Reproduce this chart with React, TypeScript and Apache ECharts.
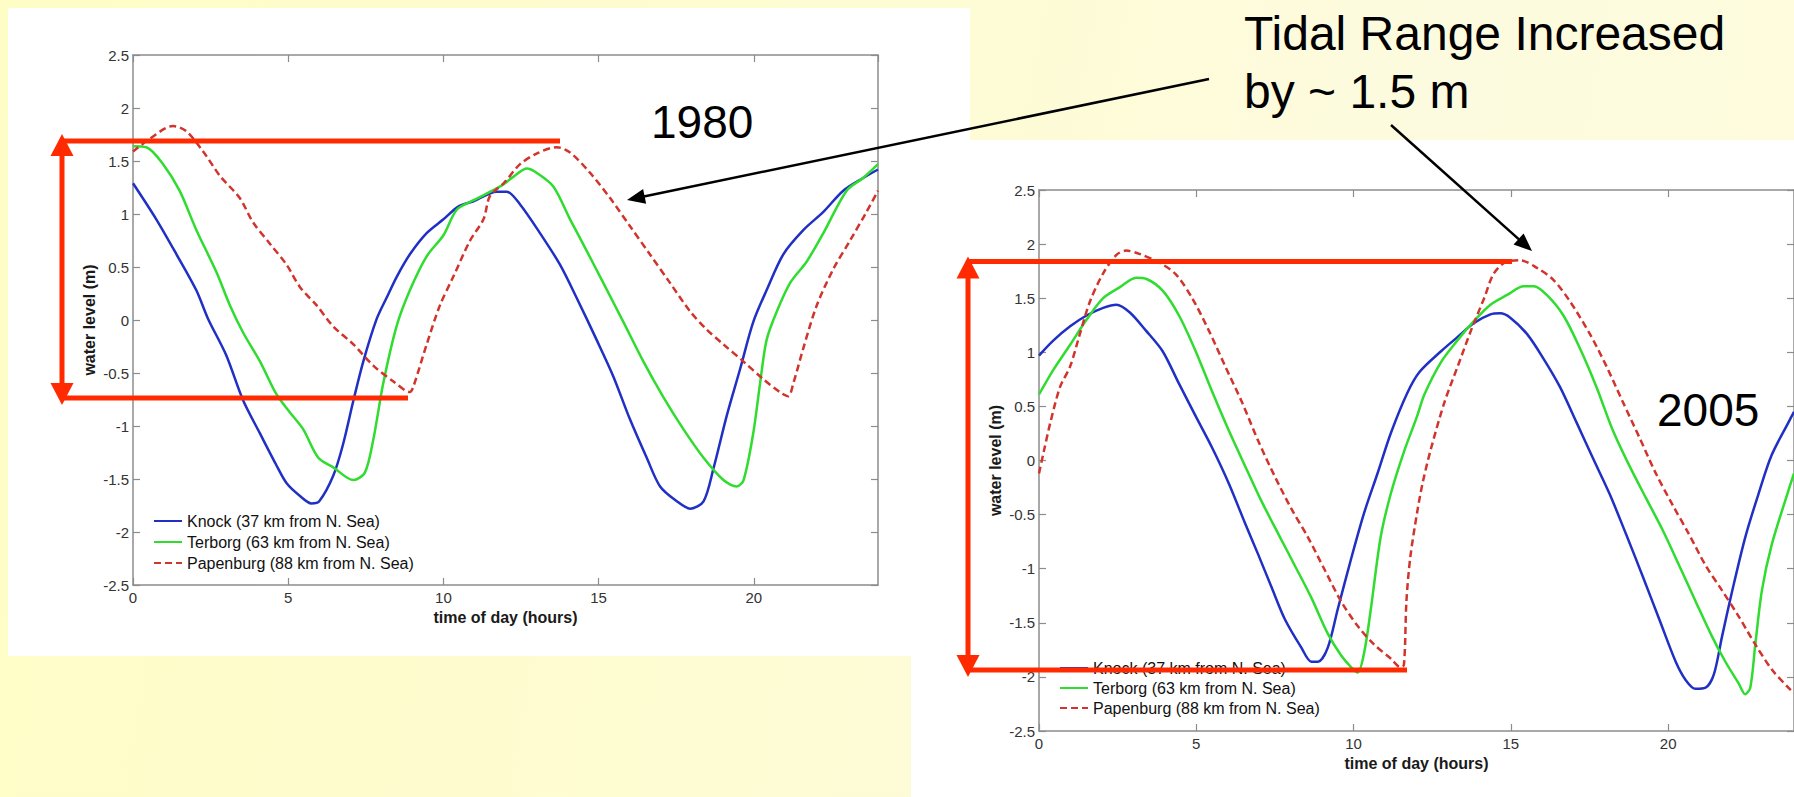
import React, { useEffect, useRef } from "react";
import * as echarts from "echarts";

// ---------- data: water level (m) against time of day (hours) ----------
const HOUR_MIN = 0;
const HOUR_MAX = 24;
const HOUR_STEP = 5;
const LEVEL_TICKS = [-2.5, -2, -1.5, -1, -0.5, 0, 0.5, 1, 1.5, 2, 2.5];

const SERIES_NAMES = [
  "Knock (37 km from N. Sea)",
  "Terborg (63 km from N. Sea)",
  "Papenburg (88 km from N. Sea)",
];

const knock1980: [number, number][] = [
  [0, 1.29], [0.75, 0.95], [1.4, 0.62], [2.04, 0.28], [2.42, 0.01], [3.0, -0.33],
  [3.55, -0.76], [4.09, -1.07], [4.62, -1.37], [4.95, -1.54], [5.38, -1.66],
  [5.75, -1.73], [6.0, -1.71], [6.45, -1.47], [6.77, -1.17], [7.1, -0.76],
  [7.42, -0.39], [7.85, 0.01], [8.17, 0.21], [8.5, 0.41], [8.92, 0.62], [9.46, 0.82],
  [10.0, 0.95], [10.48, 1.07], [10.97, 1.12], [11.72, 1.21], [12.04, 1.21],
  [12.47, 1.09], [13.11, 0.82], [13.76, 0.52], [14.29, 0.21], [14.94, -0.19],
  [15.47, -0.53], [16.0, -0.93], [16.55, -1.3], [16.98, -1.57], [17.52, -1.71],
  [17.95, -1.78], [18.38, -1.71], [18.7, -1.4], [19.13, -0.9], [19.56, -0.46],
  [19.98, -0.02], [20.41, 0.28], [20.95, 0.62], [21.6, 0.85], [22.24, 1.02],
  [22.88, 1.22], [23.52, 1.34], [24, 1.42],
];

const terborg1980: [number, number][] = [
  [0, 1.64], [0.43, 1.63], [0.97, 1.47], [1.5, 1.22], [2.04, 0.85], [2.69, 0.45],
  [3.12, 0.14], [3.55, -0.12], [4.09, -0.39], [4.62, -0.7], [5.05, -0.87],
  [5.48, -1.03], [5.97, -1.3], [6.45, -1.39], [7.1, -1.51], [7.47, -1.44],
  [7.74, -1.13], [8.06, -0.6], [8.49, -0.06], [8.92, 0.28], [9.46, 0.6], [10.0, 0.8],
  [10.43, 1.04], [10.97, 1.13], [11.83, 1.26], [12.25, 1.35], [12.69, 1.43],
  [13.0, 1.39], [13.54, 1.26], [14.08, 0.95], [14.62, 0.65], [15.15, 0.35],
  [15.8, -0.02], [16.44, -0.39], [17.09, -0.73], [17.73, -1.03], [18.38, -1.3],
  [19.02, -1.51], [19.45, -1.57], [19.67, -1.51], [19.98, -1.07], [20.2, -0.6],
  [20.41, -0.19], [20.74, 0.08], [21.17, 0.35], [21.7, 0.55], [22.24, 0.82],
  [22.99, 1.22], [23.52, 1.34], [24, 1.47],
];

const papenburg1980: [number, number][] = [
  [0, 1.59], [0.54, 1.71], [1.29, 1.83], [1.72, 1.78], [2.26, 1.59], [2.8, 1.36],
  [3.44, 1.15], [3.87, 0.92], [4.41, 0.72], [4.95, 0.52], [5.38, 0.31], [5.91, 0.14],
  [6.45, -0.06], [7.1, -0.23], [7.74, -0.43], [8.39, -0.58], [8.92, -0.68],
  [9.03, -0.63], [9.46, -0.23], [9.89, 0.14], [10.32, 0.41], [10.86, 0.75],
  [11.29, 0.95], [11.5, 1.17], [11.94, 1.29], [12.47, 1.47], [13.0, 1.57],
  [13.65, 1.63], [14.08, 1.58], [14.72, 1.39], [15.37, 1.15], [16.0, 0.89],
  [16.65, 0.62], [17.3, 0.35], [17.95, 0.08], [18.48, -0.09], [19.02, -0.23],
  [19.66, -0.39], [20.31, -0.56], [20.84, -0.68], [21.11, -0.72], [21.27, -0.6],
  [21.6, -0.26], [22.03, 0.14], [22.56, 0.48], [23.1, 0.75], [23.63, 1.02], [24, 1.22],
];

const knock2005: [number, number][] = [
  [0, 0.97], [0.46, 1.11], [0.99, 1.24], [1.51, 1.34], [2.04, 1.41], [2.46, 1.44],
  [2.88, 1.37], [3.4, 1.2], [3.93, 1.01], [4.45, 0.71], [4.98, 0.41], [5.5, 0.12],
  [6.03, -0.21], [6.55, -0.58], [6.97, -0.87], [7.39, -1.17], [7.82, -1.47],
  [8.34, -1.73], [8.66, -1.86], [8.87, -1.86], [9.18, -1.73], [9.5, -1.37],
  [9.92, -0.91], [10.34, -0.48], [10.76, -0.12], [11.18, 0.25], [11.7, 0.62],
  [12.1, 0.82], [12.78, 1.01], [13.3, 1.14], [13.83, 1.27], [14.35, 1.35],
  [14.66, 1.36], [14.98, 1.32], [15.51, 1.17], [16.04, 0.94], [16.56, 0.68],
  [17.09, 0.35], [17.61, 0.02], [18.14, -0.31], [18.66, -0.68], [19.19, -1.07],
  [19.72, -1.47], [20.24, -1.86], [20.56, -2.03], [20.87, -2.11], [21.19, -2.1],
  [21.45, -1.98], [21.71, -1.63], [22.04, -1.2], [22.45, -0.71], [22.87, -0.31],
  [23.29, 0.05], [23.82, 0.35], [24, 0.45],
];

const terborg2005: [number, number][] = [
  [0, 0.61], [0.46, 0.84], [0.99, 1.07], [1.51, 1.3], [2.04, 1.5], [2.56, 1.6],
  [3.09, 1.69], [3.4, 1.68], [3.93, 1.57], [4.45, 1.34], [4.98, 1.01], [5.5, 0.64],
  [6.03, 0.28], [6.55, -0.05], [7.08, -0.38], [7.61, -0.68], [8.13, -0.97],
  [8.66, -1.27], [9.18, -1.6], [9.6, -1.8], [9.92, -1.91], [10.13, -1.96],
  [10.34, -1.77], [10.55, -1.37], [10.86, -0.71], [11.18, -0.31], [11.6, 0.08],
  [12.02, 0.41], [12.25, 0.61], [12.78, 0.91], [13.3, 1.11], [13.83, 1.29],
  [14.35, 1.44], [14.88, 1.53], [15.41, 1.61], [15.73, 1.61], [16.14, 1.53],
  [16.67, 1.34], [17.19, 1.04], [17.72, 0.68], [18.24, 0.28], [18.77, -0.05],
  [19.3, -0.35], [19.82, -0.64], [20.35, -0.97], [20.87, -1.3], [21.4, -1.63],
  [21.82, -1.86], [22.24, -2.06], [22.45, -2.16], [22.61, -2.1], [22.77, -1.7],
  [22.98, -1.2], [23.29, -0.78], [23.82, -0.28], [24, -0.12],
];

const papenburg2005: [number, number][] = [
  [0, -0.12], [0.15, 0.08], [0.36, 0.35], [0.67, 0.68], [0.99, 0.87], [1.3, 1.17],
  [1.62, 1.47], [2.04, 1.73], [2.46, 1.9], [2.77, 1.94], [3.19, 1.91], [3.82, 1.83],
  [4.35, 1.72], [4.87, 1.5], [5.4, 1.2], [5.92, 0.87], [6.45, 0.54], [6.97, 0.18],
  [7.5, -0.15], [8.03, -0.45], [8.55, -0.71], [9.08, -1.01], [9.6, -1.3],
  [10.13, -1.53], [10.65, -1.7], [11.18, -1.83], [11.49, -1.91], [11.6, -1.89],
  [11.68, -1.3], [11.8, -0.9], [12.02, -0.48], [12.2, -0.2], [12.47, 0.12],
  [12.89, 0.54], [13.31, 0.87], [13.73, 1.2], [14.15, 1.5], [14.46, 1.73],
  [14.88, 1.84], [15.3, 1.85], [15.83, 1.78], [16.35, 1.67], [16.88, 1.47],
  [17.51, 1.17], [18.04, 0.87], [18.56, 0.54], [19.09, 0.21], [19.61, -0.12],
  [20.14, -0.41], [20.66, -0.68], [21.19, -0.97], [21.71, -1.2], [22.24, -1.44],
  [22.77, -1.7], [23.29, -1.93], [23.82, -2.1], [24, -2.15],
];

// ---------- styling ----------
const FONT = '"Liberation Sans", Arial, Helvetica, sans-serif';
const BLUE = "#2030c4";
const GREEN = "#2fdc2f";
const DASH_RED = "#d0342c";
const MARK_RED = "#ff2a00";
const FRAME = "#8c8c8c";

type Pt = [number, number];

function arrowHead(tip: Pt, from: Pt, len: number, half: number): Pt[] {
  const dx = tip[0] - from[0];
  const dy = tip[1] - from[1];
  const d = Math.hypot(dx, dy);
  const ux = dx / d;
  const uy = dy / d;
  const bx = tip[0] - ux * len;
  const by = tip[1] - uy * len;
  return [tip, [bx - uy * half, by + ux * half], [bx + uy * half, by - ux * half]];
}

function arrow(from: Pt, tip: Pt, color: string, width: number, len: number, half: number) {
  const dx = tip[0] - from[0];
  const dy = tip[1] - from[1];
  const d = Math.hypot(dx, dy);
  const end: Pt = [tip[0] - (dx / d) * (len - 2), tip[1] - (dy / d) * (len - 2)];
  return [
    {
      type: "line",
      z: 60,
      shape: { x1: from[0], y1: from[1], x2: end[0], y2: end[1] },
      style: { stroke: color, lineWidth: width },
    },
    {
      type: "polygon",
      z: 60,
      shape: { points: arrowHead(tip, from, len, half) },
      style: { fill: color },
    },
  ];
}

// red range bracket: double-headed vertical arrow plus two horizontal levels
function rangeBracket(x: number, yTop: number, yBot: number, topTip: number, botTip: number, xTopEnd: number, xBotEnd: number) {
  const w = 5;
  return [
    {
      type: "line",
      z: 55,
      shape: { x1: x, y1: topTip + 12, x2: x, y2: botTip - 12 },
      style: { stroke: MARK_RED, lineWidth: w },
    },
    { type: "polygon", z: 55, shape: { points: arrowHead([x, topTip], [x, topTip + 30], 22, 11.5) }, style: { fill: MARK_RED } },
    { type: "polygon", z: 55, shape: { points: arrowHead([x, botTip], [x, botTip - 30], 22, 11.5) }, style: { fill: MARK_RED } },
    { type: "line", z: 55, shape: { x1: x, y1: yTop, x2: xTopEnd, y2: yTop }, style: { stroke: MARK_RED, lineWidth: w } },
    { type: "line", z: 55, shape: { x1: x, y1: yBot, x2: xBotEnd, y2: yBot }, style: { stroke: MARK_RED, lineWidth: w } },
  ];
}

function bigText(text: string, x: number, y: number, size: number) {
  return {
    type: "text",
    z: 60,
    x,
    y,
    style: {
      text,
      fill: "#000",
      fontSize: size,
      fontFamily: FONT,
      textVerticalAlign: "middle",
      verticalAlign: "middle",
    },
  };
}

function lineSeries(name: string, data: Pt[], grid: number, color: string, dashed: boolean) {
  return {
    type: "line",
    name,
    data,
    xAxisIndex: grid * 2,
    yAxisIndex: grid * 2,
    symbol: "none",
    showSymbol: false,
    smooth: 0.3,
    clip: true,
    z: 3,
    itemStyle: { color },
    lineStyle: { color, width: 2.5, type: dashed ? [7, 4] : "solid", cap: "butt", join: "round" },
  };
}

function xAxes(grid: number, nameGap: number) {
  const common = {
    gridIndex: grid,
    type: "value",
    min: HOUR_MIN,
    max: HOUR_MAX,
    interval: HOUR_STEP,
    splitLine: { show: false },
    axisLine: { show: true, onZero: false, lineStyle: { color: FRAME, width: 1.5 } },
    axisTick: { show: true, inside: true, length: 7, lineStyle: { color: FRAME, width: 1.2 } },
  };
  return [
    {
      ...common,
      position: "bottom",
      name: "time of day (hours)",
      nameLocation: "middle",
      nameGap,
      nameTextStyle: { fontFamily: FONT, fontWeight: "bold", fontSize: 16, color: "#1a1a1a" },
      axisLabel: { margin: 5, fontSize: 15, color: "#333", fontFamily: FONT, showMaxLabel: false },
    },
    { ...common, position: "top", axisLabel: { show: false } },
  ];
}

function yAxes(grid: number) {
  const common = {
    gridIndex: grid,
    type: "value",
    min: LEVEL_TICKS[0],
    max: LEVEL_TICKS[LEVEL_TICKS.length - 1],
    interval: LEVEL_TICKS[1] - LEVEL_TICKS[0],
    splitLine: { show: false },
    axisLine: { show: true, onZero: false, lineStyle: { color: FRAME, width: 1.5 } },
    axisTick: { show: true, inside: true, length: 7, lineStyle: { color: FRAME, width: 1.2 } },
  };
  return [
    {
      ...common,
      position: "left",
      name: "water level (m)",
      nameLocation: "middle",
      nameGap: 36,
      nameTextStyle: { fontFamily: FONT, fontWeight: "bold", fontSize: 16, color: "#1a1a1a" },
      axisLabel: { margin: 4, fontSize: 15, color: "#333", fontFamily: FONT },
    },
    { ...common, position: "right", axisLabel: { show: false } },
  ];
}

function legendAt(left: number, top: number, gap: number) {
  return {
    data: SERIES_NAMES,
    orient: "vertical",
    left,
    top,
    itemWidth: 28,
    itemHeight: 12,
    itemGap: gap,
    selectedMode: false,
    padding: 0,
    // show only the line sample, no marker
    itemStyle: { color: "rgba(0,0,0,0)", borderWidth: 0, opacity: 0 },
    textStyle: { fontFamily: FONT, fontSize: 16, lineHeight: 16, color: "#111" },
  };
}

export default function App() {
  const ref = useRef<HTMLDivElement>(null);

  useEffect(() => {
    if (!ref.current) return;
    const chart = echarts.init(ref.current, undefined, { renderer: "svg" });

    const graphic = [
      bigText("Tidal Range Increased", 1244, 33, 48),
      bigText("by ~ 1.5 m", 1244, 91, 48),
      bigText("1980", 651, 122, 46),
      bigText("2005", 1657, 410, 46),
      ...arrow([1209, 79], [627, 200], "#000", 2.5, 18, 7.5),
      ...arrow([1391, 125], [1532, 251], "#000", 2.5, 18, 7.5),
      ...rangeBracket(62, 141, 398, 134, 405, 560, 408),
      ...rangeBracket(968, 261.5, 670, 256.5, 677, 1512, 1407),
    ];

    chart.setOption({
      animation: false,
      backgroundColor: "transparent",
      textStyle: { fontFamily: FONT },
      grid: [
        { left: 133, top: 55, width: 745, height: 530 },
        { left: 1039, top: 190, width: 761, height: 541 },
      ],
      xAxis: [...xAxes(0, 20), ...xAxes(1, 23)],
      yAxis: [...yAxes(0), ...yAxes(1)],
      legend: [legendAt(153, 513, 5), legendAt(1059, 660, 4)],
      series: [
        lineSeries(SERIES_NAMES[0], knock1980, 0, BLUE, false),
        lineSeries(SERIES_NAMES[1], terborg1980, 0, GREEN, false),
        lineSeries(SERIES_NAMES[2], papenburg1980, 0, DASH_RED, true),
        lineSeries(SERIES_NAMES[0], knock2005, 1, BLUE, false),
        lineSeries(SERIES_NAMES[1], terborg2005, 1, GREEN, false),
        lineSeries(SERIES_NAMES[2], papenburg2005, 1, DASH_RED, true),
      ],
      graphic,
    });

    return () => chart.dispose();
  }, []);

  return (
    <div
      style={{
        position: "fixed",
        left: 0,
        top: 0,
        width: 1794,
        height: 797,
        overflow: "hidden",
        background: "linear-gradient(100deg, #fffdc6 0%, #fefcd3 45%, #fdfbdf 75%, #fefcdc 100%)",
      }}
    >
      {/* white figure panels */}
      <div style={{ position: "absolute", left: 911, top: 140, width: 883, height: 657, background: "#fff" }} />
      <div style={{ position: "absolute", left: 8, top: 8, width: 962, height: 648, background: "#fff" }} />
      <div ref={ref} style={{ position: "absolute", left: 0, top: 0, width: 1794, height: 797 }} />
    </div>
  );
}
